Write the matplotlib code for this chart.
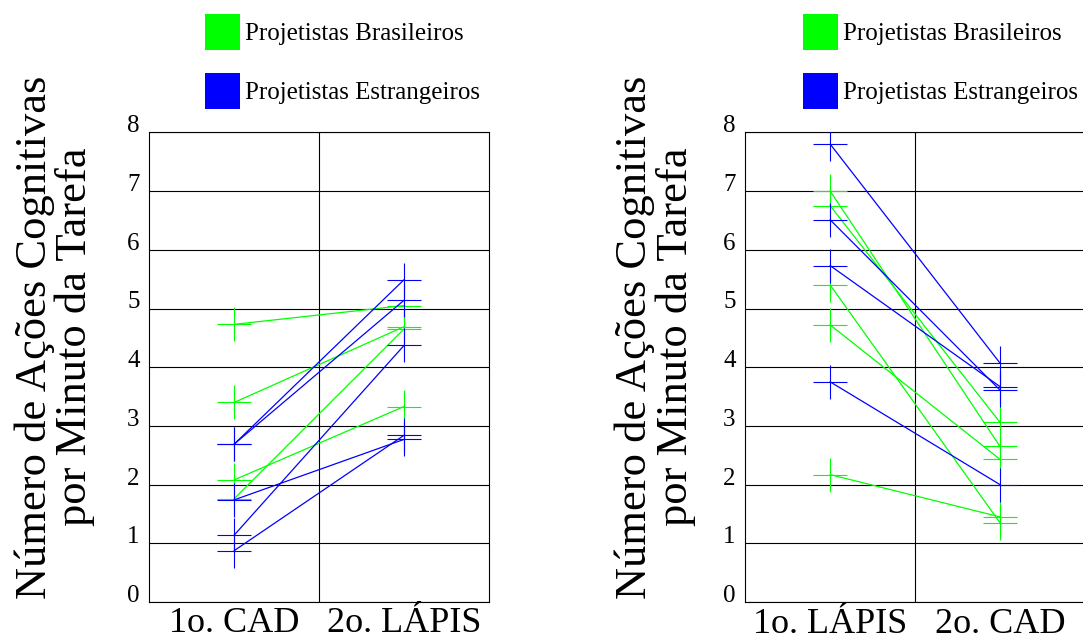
import matplotlib
matplotlib.use("Agg")
import matplotlib.pyplot as plt
from matplotlib.patches import Patch

# left panel: 1o. CAD -> 2o. LAPIS
left_cats = ["1o. CAD", "2o. LÁPIS"]
left_br_1 = [4.73, 3.40, 2.08, 1.76]
left_br_2 = [5.05, 4.69, 3.33, 4.65]
left_es_1 = [2.69, 2.69, 1.74, 1.14, 0.875]
left_es_2 = [5.49, 5.14, 2.77, 4.37, 2.84]

# right panel: 1o. LAPIS -> 2o. CAD
right_cats = ["1o. LÁPIS", "2o. CAD"]
right_br_1 = [7.00, 6.75, 5.40, 4.72, 2.17]
right_br_2 = [2.65, 3.06, 1.35, 2.43, 1.45]
right_es_1 = [7.80, 6.51, 5.73, 3.75]
right_es_2 = [4.07, 3.61, 3.67, 2.00]

yticks = list(range(9))
ylabel = "Número de Ações Cognitivas\npor Minuto da Tarefa"
leg_labels = ["Projetistas Brasileiros", "Projetistas Estrangeiros"]

green = "#00FF00"
blue = "#0000FF"

plt.rcParams.update({
    "font.family": ["Liberation Serif", "DejaVu Serif"],
    "axes.linewidth": 0.8,
})

W, H = 1083, 642
fig = plt.figure(figsize=(W / 100, H / 100), dpi=100)


def panel(x0, cats, br1, br2, es1, es2, xpad):
    ax = fig.add_axes([x0 / W, 40 / H, 339.6 / W, 469.6 / H])
    for a, b in zip(br1, br2):
        ax.plot([0.5, 1.5], [a, b], color=green, lw=0.9, marker="+",
                ms=24.5, mew=0.8, zorder=3)
    for a, b in zip(es1, es2):
        ax.plot([0.5, 1.5], [a, b], color=blue, lw=0.9, marker="+",
                ms=24.5, mew=0.8, zorder=3)
    ax.axvline(1, color="black", lw=0.8, zorder=1)
    ax.set_xlim(0, 2)
    ax.set_ylim(0, 8)
    ax.set_yticks(yticks)
    ax.set_yticklabels([str(t) for t in yticks], fontsize=18)
    for t in ax.get_yticklabels():
        t.set_va("baseline")
    ax.set_xticks([0.5, 1.5])
    ax.set_xticklabels(cats, fontsize=26)
    ax.tick_params(axis="y", length=0, pad=7)
    ax.tick_params(axis="x", length=0, pad=xpad)
    ax.grid(axis="y", color="black", lw=0.8, zorder=1)
    ax.set_axisbelow(True)
    return ax


panel(149.3, left_cats, left_br_1, left_br_2, left_es_1, left_es_2, 3.5)
panel(745.3, right_cats, right_br_1, right_br_2, right_es_1, right_es_2, 4.5)

for cx in (55, 655):
    fig.text(cx / W, 1 - 337 / H, ylabel, rotation=90, ha="center",
             va="center", multialignment="center", fontsize=32,
             linespacing=1.0)

handles = [Patch(facecolor=green, edgecolor="none"),
           Patch(facecolor=blue, edgecolor="none")]
for lx in (205, 803):
    fig.legend(handles, leg_labels, loc="upper left",
               bbox_to_anchor=(lx / W, 1 - 14 / H), frameon=False,
               fontsize=18, handlelength=1.4, handleheight=1.85,
               handletextpad=0.2, labelspacing=0.92, borderpad=0,
               borderaxespad=0)

fig.savefig("out.png", dpi=100)
